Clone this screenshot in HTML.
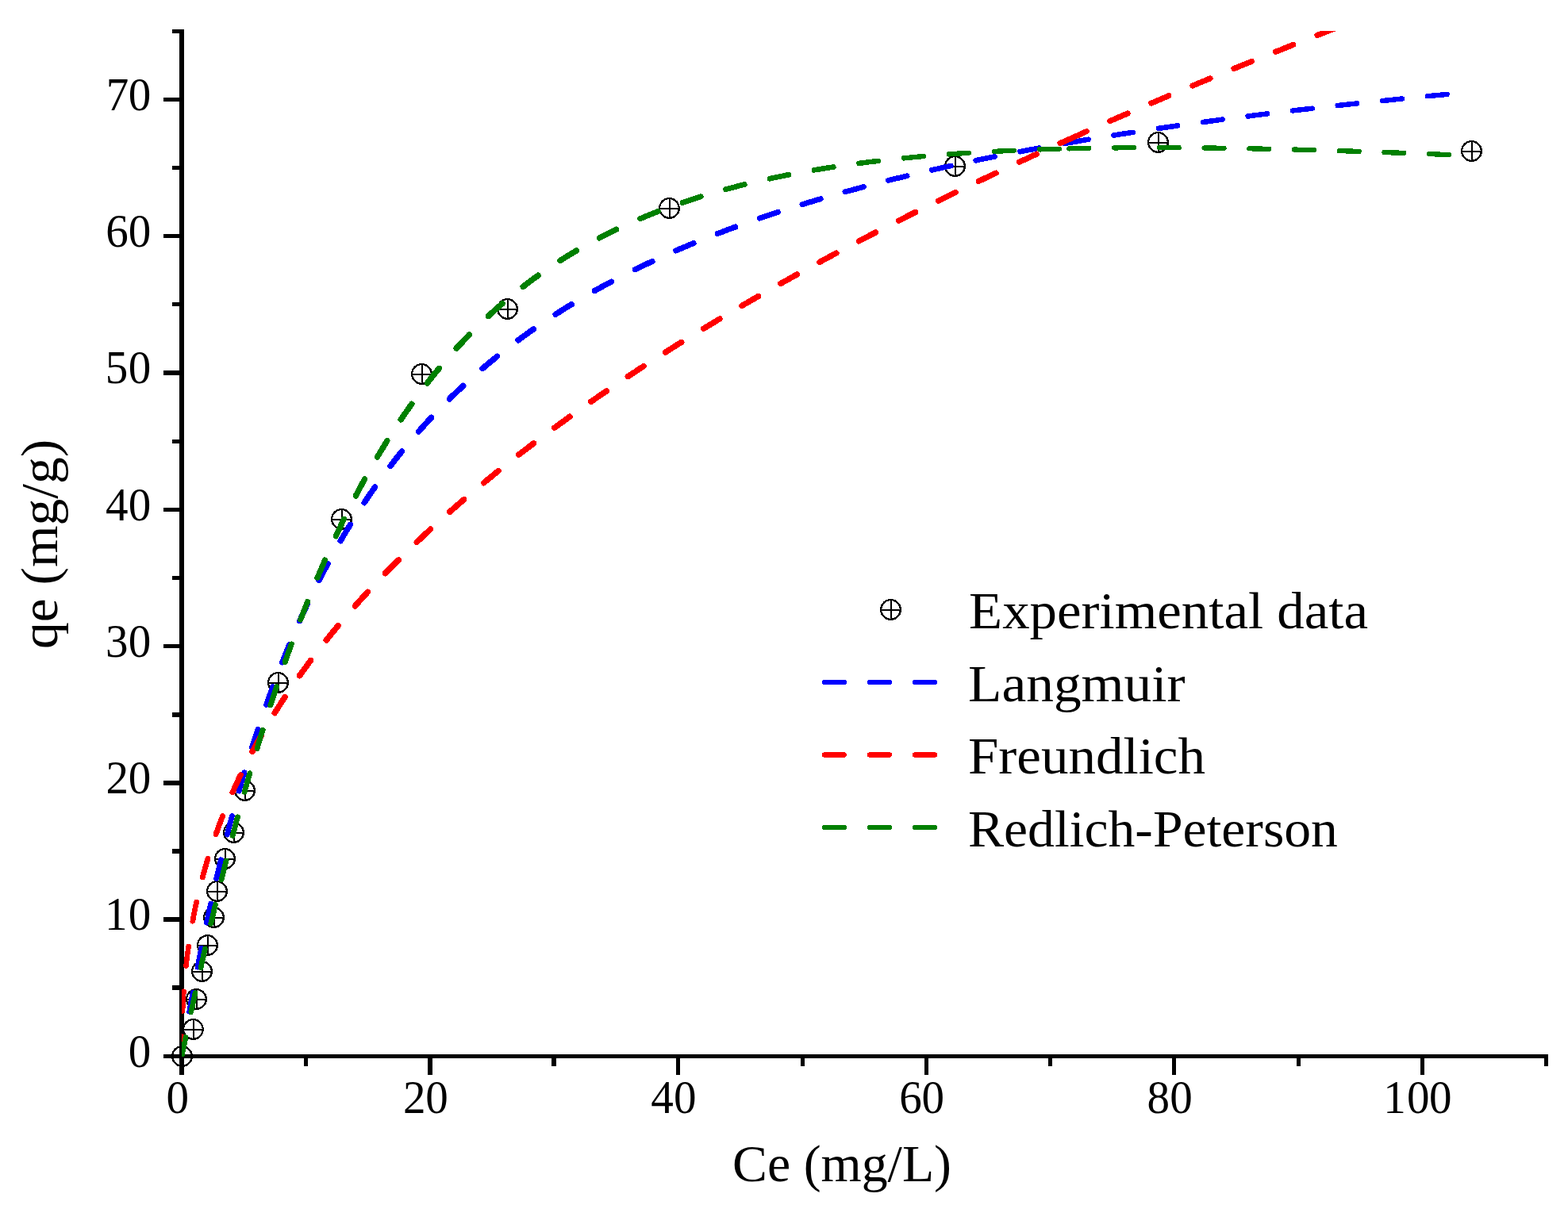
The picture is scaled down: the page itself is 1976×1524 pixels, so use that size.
<!DOCTYPE html>
<html lang="en"><head><meta charset="utf-8"><title>Adsorption isotherm</title>
<style>html,body{margin:0;padding:0;background:#fff;}body{width:1976px;height:1524px;overflow:hidden;}svg{display:block;}text{font-family:"Liberation Serif","DejaVu Serif",serif;fill:#000;font-kerning:none;}</style></head><body>
<svg width="1976" height="1524" viewBox="0 0 1976 1524">
<rect x="0" y="0" width="1976" height="1524" fill="#fff"/>
<g fill="#000" shape-rendering="crispEdges">
<rect x="226" y="37" width="6" height="1318"/>
<rect x="206" y="1329" width="1745" height="5"/>
<rect x="217" y="37" width="9" height="5"/>
<rect x="206" y="123" width="20" height="5"/>
<rect x="217" y="209" width="9" height="5"/>
<rect x="206" y="295" width="20" height="5"/>
<rect x="217" y="381" width="9" height="5"/>
<rect x="206" y="467" width="20" height="6"/>
<rect x="217" y="554" width="9" height="5"/>
<rect x="206" y="640" width="20" height="5"/>
<rect x="217" y="726" width="9" height="5"/>
<rect x="206" y="812" width="20" height="5"/>
<rect x="217" y="898" width="9" height="6"/>
<rect x="206" y="984" width="20" height="6"/>
<rect x="217" y="1070" width="9" height="6"/>
<rect x="206" y="1156" width="20" height="6"/>
<rect x="217" y="1242" width="9" height="6"/>
<rect x="383" y="1334" width="5" height="10"/>
<rect x="539" y="1334" width="6" height="21"/>
<rect x="695" y="1334" width="6" height="10"/>
<rect x="852" y="1334" width="5" height="21"/>
<rect x="1009" y="1334" width="5" height="10"/>
<rect x="1165" y="1334" width="5" height="21"/>
<rect x="1321" y="1334" width="5" height="10"/>
<rect x="1477" y="1334" width="5" height="21"/>
<rect x="1634" y="1334" width="5" height="10"/>
<rect x="1790" y="1334" width="5" height="21"/>
<rect x="1946" y="1334" width="5" height="10"/>
</g>
<g fill="#000" shape-rendering="crispEdges">
<g transform="translate(229.5,1331.5)"><circle r="12.35" fill="none" stroke="#000" stroke-width="2.30"/><rect x="-0.5" y="-13" width="2" height="26"/><rect x="-13" y="-0.5" width="26" height="2"/></g>
<g transform="translate(243.5,1297.5)"><circle r="12.35" fill="none" stroke="#000" stroke-width="2.30"/><rect x="-0.5" y="-13" width="2" height="26"/><rect x="-13" y="-0.5" width="26" height="2"/></g>
<g transform="translate(247.5,1259.5)"><circle r="12.35" fill="none" stroke="#000" stroke-width="2.30"/><rect x="-0.5" y="-13" width="2" height="26"/><rect x="-13" y="-0.5" width="26" height="2"/></g>
<g transform="translate(254.5,1224.5)"><circle r="12.35" fill="none" stroke="#000" stroke-width="2.30"/><rect x="-0.5" y="-13" width="2" height="26"/><rect x="-13" y="-0.5" width="26" height="2"/></g>
<g transform="translate(261.5,1191.5)"><circle r="12.35" fill="none" stroke="#000" stroke-width="2.30"/><rect x="-0.5" y="-13" width="2" height="26"/><rect x="-13" y="-0.5" width="26" height="2"/></g>
<g transform="translate(269.5,1156.5)"><circle r="12.35" fill="none" stroke="#000" stroke-width="2.30"/><rect x="-0.5" y="-13" width="2" height="26"/><rect x="-13" y="-0.5" width="26" height="2"/></g>
<g transform="translate(273.5,1123.5)"><circle r="12.35" fill="none" stroke="#000" stroke-width="2.30"/><rect x="-0.5" y="-13" width="2" height="26"/><rect x="-13" y="-0.5" width="26" height="2"/></g>
<g transform="translate(283.5,1082.5)"><circle r="12.35" fill="none" stroke="#000" stroke-width="2.30"/><rect x="-0.5" y="-13" width="2" height="26"/><rect x="-13" y="-0.5" width="26" height="2"/></g>
<g transform="translate(294.5,1049.5)"><circle r="12.35" fill="none" stroke="#000" stroke-width="2.30"/><rect x="-0.5" y="-13" width="2" height="26"/><rect x="-13" y="-0.5" width="26" height="2"/></g>
<g transform="translate(308.5,996.5)"><circle r="12.35" fill="none" stroke="#000" stroke-width="2.30"/><rect x="-0.5" y="-13" width="2" height="26"/><rect x="-13" y="-0.5" width="26" height="2"/></g>
<g transform="translate(350.5,860.5)"><circle r="12.35" fill="none" stroke="#000" stroke-width="2.30"/><rect x="-0.5" y="-13" width="2" height="26"/><rect x="-13" y="-0.5" width="26" height="2"/></g>
<g transform="translate(430.5,654.5)"><circle r="12.35" fill="none" stroke="#000" stroke-width="2.30"/><rect x="-0.5" y="-13" width="2" height="26"/><rect x="-13" y="-0.5" width="26" height="2"/></g>
<g transform="translate(531.5,471.5)"><circle r="12.35" fill="none" stroke="#000" stroke-width="2.30"/><rect x="-0.5" y="-13" width="2" height="26"/><rect x="-13" y="-0.5" width="26" height="2"/></g>
<g transform="translate(639.5,389.5)"><circle r="12.35" fill="none" stroke="#000" stroke-width="2.30"/><rect x="-0.5" y="-13" width="2" height="26"/><rect x="-13" y="-0.5" width="26" height="2"/></g>
<g transform="translate(843.5,262.5)"><circle r="12.35" fill="none" stroke="#000" stroke-width="2.30"/><rect x="-0.5" y="-13" width="2" height="26"/><rect x="-13" y="-0.5" width="26" height="2"/></g>
<g transform="translate(1203.5,209.5)"><circle r="12.35" fill="none" stroke="#000" stroke-width="2.30"/><rect x="-0.5" y="-13" width="2" height="26"/><rect x="-13" y="-0.5" width="26" height="2"/></g>
<g transform="translate(1459.5,179.5)"><circle r="12.35" fill="none" stroke="#000" stroke-width="2.30"/><rect x="-0.5" y="-13" width="2" height="26"/><rect x="-13" y="-0.5" width="26" height="2"/></g>
<g transform="translate(1854.5,190.5)"><circle r="12.35" fill="none" stroke="#000" stroke-width="2.30"/><rect x="-0.5" y="-13" width="2" height="26"/><rect x="-13" y="-0.5" width="26" height="2"/></g>
<g transform="translate(1122.5,768.5)"><circle r="12.35" fill="none" stroke="#000" stroke-width="2.30"/><rect x="-0.5" y="-13" width="2" height="26"/><rect x="-13" y="-0.5" width="26" height="2"/></g>
</g>
<defs><clipPath id="plot"><rect x="229" y="39" width="1722" height="1293"/></clipPath></defs>
<g fill="none" stroke-linecap="round" stroke-linejoin="round" clip-path="url(#plot)" shape-rendering="crispEdges">
<g stroke="#0000ff">
<path stroke-width="6.62" d="M229.0,1331.5 L229.8,1326.6 L230.6,1321.8 L231.4,1316.9 L232.2,1312.1 L233.0,1307.3"/>
<path stroke-width="6.65" d="M238.6,1275.3 L239.4,1270.4 L240.3,1265.6 L241.2,1260.8 L242.1,1255.9 L243.0,1251.1"/>
<path stroke-width="6.69" d="M249.0,1219.2 L249.9,1214.3 L250.9,1209.5 L251.8,1204.7 L252.8,1199.9 L253.7,1195.1"/>
<path stroke-width="6.74" d="M260.3,1163.2 L261.3,1158.4 L262.4,1153.7 L263.4,1148.9 L264.4,1144.1 L265.5,1139.3"/>
<path stroke-width="6.78" d="M272.7,1107.5 L273.8,1102.8 L274.9,1098.0 L276.1,1093.3 L277.2,1088.5 L278.3,1083.8"/>
<path stroke-width="6.84" d="M286.2,1052.1 L287.4,1047.4 L288.7,1042.7 L289.9,1038.0 L291.2,1033.3 L292.4,1028.6"/>
<path stroke-width="6.89" d="M301.1,997.1 L302.4,992.4 L303.8,987.7 L305.1,983.1 L306.5,978.4 L307.9,973.7"/>
<path stroke-width="6.96" d="M317.5,942.4 L319.0,937.8 L320.4,933.2 L321.9,928.6 L323.4,924.0 L325.0,919.4"/>
<path stroke-width="7.03" d="M335.6,888.4 L337.2,883.8 L338.8,879.3 L340.5,874.7 L342.1,870.2 L343.8,865.6"/>
<path stroke-width="7.11" d="M355.6,835.0 L357.4,830.6 L359.2,826.1 L361.0,821.6 L362.8,817.2 L364.7,812.7"/>
<path stroke-width="7.19" d="M377.6,782.8 L379.6,778.4 L381.6,774.0 L383.6,769.6 L385.6,765.3 L387.7,760.9"/>
<path stroke-width="7.27" d="M402.1,731.6 L404.8,726.3 L407.6,721.0 L410.4,715.7 L413.2,710.4"/>
<path stroke-width="7.34" d="M429.2,681.8 L432.2,676.6 L435.2,671.5 L438.3,666.4 L441.4,661.3"/>
<path stroke-width="7.41" d="M459.0,633.7 L462.3,628.7 L465.7,623.8 L469.1,618.9 L472.5,614.1"/>
<path stroke-width="7.46" d="M491.9,587.6 L495.5,582.9 L499.1,578.2 L502.8,573.6 L506.5,568.9"/>
<path stroke-width="7.49" d="M527.7,543.9 L531.6,539.4 L535.6,535.0 L539.6,530.6 L543.6,526.3"/>
<path stroke-width="7.50" d="M566.5,502.8 L570.7,498.6 L575.0,494.5 L579.3,490.5 L583.6,486.4"/>
<path stroke-width="7.48" d="M608.2,464.5 L612.8,460.6 L617.3,456.8 L621.9,453.1 L626.5,449.3"/>
<path stroke-width="7.43" d="M653.1,428.8 L657.8,425.3 L662.7,421.8 L667.5,418.3 L672.4,414.9"/>
<path stroke-width="7.37" d="M700.2,396.2 L705.2,393.0 L710.2,389.8 L715.3,386.7 L720.4,383.6"/>
<path stroke-width="7.30" d="M749.4,366.6 L754.6,363.7 L759.8,360.8 L765.1,358.0 L770.4,355.2"/>
<path stroke-width="7.22" d="M800.3,339.8 L805.7,337.2 L811.1,334.6 L816.5,332.0 L821.9,329.5"/>
<path stroke-width="7.14" d="M851.9,315.9 L856.3,314.0 L860.8,312.1 L865.2,310.3 L869.6,308.4 L874.1,306.6"/>
<path stroke-width="7.06" d="M904.3,294.5 L908.8,292.8 L913.3,291.0 L917.8,289.3 L922.4,287.7 L926.9,286.0"/>
<path stroke-width="6.99" d="M957.4,275.1 L962.0,273.6 L966.6,272.0 L971.2,270.5 L975.8,269.0 L980.4,267.4"/>
<path stroke-width="6.92" d="M1010.9,257.7 L1015.6,256.3 L1020.2,254.9 L1024.9,253.5 L1029.5,252.1 L1034.2,250.7"/>
<path stroke-width="6.86" d="M1064.9,241.9 L1069.6,240.6 L1074.3,239.3 L1079.0,238.1 L1083.7,236.8 L1088.4,235.5"/>
<path stroke-width="6.81" d="M1119.4,227.5 L1124.2,226.3 L1128.9,225.1 L1133.6,224.0 L1138.4,222.8 L1143.1,221.7"/>
<path stroke-width="6.76" d="M1174.4,214.3 L1179.2,213.3 L1183.9,212.2 L1188.7,211.1 L1193.5,210.0 L1198.3,209.0"/>
<path stroke-width="6.71" d="M1229.7,202.3 L1234.4,201.3 L1239.2,200.3 L1244.0,199.3 L1248.8,198.4 L1253.6,197.4"/>
<path stroke-width="6.67" d="M1285.5,191.2 L1290.3,190.2 L1295.2,189.3 L1300.0,188.4 L1304.8,187.5 L1309.6,186.7"/>
<path stroke-width="6.64" d="M1341.7,180.9 L1347.3,179.9"/>
<path stroke-width="6.63" d="M1347.3,179.9 L1352.1,179.1 L1357.0,178.3 L1361.8,177.4 L1366.7,176.6 L1371.5,175.8"/>
<path stroke-width="6.60" d="M1403.5,170.6 L1408.3,169.8 L1413.2,169.0 L1418.1,168.3 L1422.9,167.5 L1427.8,166.8"/>
<path stroke-width="6.57" d="M1459.8,161.9 L1464.6,161.2 L1469.5,160.5 L1474.4,159.8 L1479.3,159.1 L1484.1,158.4"/>
<path stroke-width="6.54" d="M1516.1,153.9 L1521.0,153.3 L1525.9,152.6 L1530.8,151.9 L1535.7,151.3 L1540.6,150.6"/>
<path stroke-width="6.52" d="M1572.6,146.5 L1577.5,145.8 L1582.4,145.2 L1587.3,144.6 L1592.2,144.0 L1597.1,143.4"/>
<path stroke-width="6.50" d="M1629.1,139.5 L1634.0,138.9 L1638.9,138.4 L1643.9,137.8 L1648.8,137.2 L1653.7,136.7"/>
<path stroke-width="6.48" d="M1685.7,133.0 L1690.6,132.5 L1695.5,132.0 L1700.5,131.4 L1705.4,130.9 L1710.3,130.4"/>
<path stroke-width="6.46" d="M1742.3,127.0 L1747.3,126.5 L1752.2,126.0 L1757.1,125.5 L1762.0,125.0 L1766.9,124.5"/>
<path stroke-width="6.45" d="M1799.0,121.3 L1803.9,120.8 L1808.9,120.3 L1813.8,119.9 L1818.7,119.4 L1823.6,118.9"/>
</g>
<g stroke="#ff0000">
<path stroke-width="6.21" d="M229.0,1331.5 L229.0,1326.5 L229.0,1321.5 L229.1,1316.5 L229.1,1311.5 L229.2,1306.5"/>
<path stroke-width="6.34" d="M230.1,1274.4 L230.4,1269.5 L230.6,1264.5 L230.9,1259.5 L231.2,1254.6 L231.6,1249.6"/>
<path stroke-width="6.51" d="M234.5,1217.6 L235.0,1212.7 L235.6,1207.8 L236.2,1202.9 L236.9,1198.0 L237.6,1193.1"/>
<path stroke-width="6.70" d="M242.8,1161.2 L243.7,1156.4 L244.6,1151.6 L245.6,1146.8 L246.6,1142.0 L247.6,1137.2"/>
<path stroke-width="6.88" d="M255.3,1105.7 L256.6,1101.0 L257.9,1096.3 L259.2,1091.7 L260.6,1087.0 L262.0,1082.3"/>
<path stroke-width="7.04" d="M272.1,1051.5 L273.8,1046.9 L275.4,1042.4 L277.1,1037.8 L278.8,1033.3 L280.6,1028.8"/>
<path stroke-width="7.18" d="M293.1,998.7 L295.1,994.3 L297.1,989.9 L299.1,985.6 L301.1,981.2 L303.2,976.9"/>
<path stroke-width="7.30" d="M317.9,947.7 L320.8,942.5 L323.6,937.2 L326.5,932.0 L329.5,926.8"/>
<path stroke-width="7.38" d="M346.2,898.7 L349.4,893.6 L352.6,888.6 L355.8,883.6 L359.1,878.6"/>
<path stroke-width="7.44" d="M377.5,851.7 L381.0,846.9 L384.5,842.1 L388.0,837.3 L391.5,832.5"/>
<path stroke-width="7.47" d="M411.3,806.9 L415.1,802.2 L418.8,797.6 L422.6,793.0 L426.3,788.5"/>
<path stroke-width="7.49" d="M447.5,763.9 L451.4,759.5 L455.3,755.1 L459.3,750.7 L463.3,746.3"/>
<path stroke-width="7.50" d="M485.5,722.7 L489.7,718.5 L493.8,714.3 L498.0,710.1 L502.2,705.9"/>
<path stroke-width="7.50" d="M525.3,683.3 L529.6,679.2 L533.9,675.2 L538.3,671.1 L542.6,667.1"/>
<path stroke-width="7.49" d="M566.8,645.3 L571.2,641.3 L575.7,637.4 L580.1,633.5 L584.6,629.7"/>
<path stroke-width="7.47" d="M609.7,608.6 L614.3,604.8 L618.9,601.0 L623.5,597.3 L628.1,593.6"/>
<path stroke-width="7.46" d="M653.7,573.2 L658.4,569.6 L663.1,566.0 L667.8,562.4 L672.6,558.8"/>
<path stroke-width="7.44" d="M698.8,539.2 L703.6,535.7 L708.4,532.2 L713.2,528.7 L718.0,525.3"/>
<path stroke-width="7.42" d="M744.7,506.4 L749.6,503.0 L754.5,499.6 L759.4,496.2 L764.3,492.9"/>
<path stroke-width="7.39" d="M791.3,474.7 L796.3,471.4 L801.3,468.1 L806.2,464.8 L811.2,461.6"/>
<path stroke-width="7.37" d="M838.7,444.0 L843.7,440.8 L848.7,437.6 L853.8,434.4 L858.8,431.3"/>
<path stroke-width="7.35" d="M886.6,414.2 L891.7,411.1 L896.8,408.1 L901.9,405.0 L907.0,401.9"/>
<path stroke-width="7.33" d="M934.9,385.5 L940.1,382.5 L945.2,379.5 L950.4,376.5 L955.6,373.5"/>
<path stroke-width="7.31" d="M983.7,357.5 L988.9,354.6 L994.1,351.7 L999.3,348.8 L1004.5,345.9"/>
<path stroke-width="7.29" d="M1032.9,330.4 L1038.1,327.5 L1043.4,324.7 L1048.6,321.9 L1053.9,319.0"/>
<path stroke-width="7.27" d="M1082.4,303.9 L1087.7,301.2 L1093.0,298.4 L1098.3,295.6 L1103.7,292.9"/>
<path stroke-width="7.25" d="M1132.3,278.2 L1137.7,275.5 L1143.0,272.8 L1148.4,270.1 L1153.7,267.4"/>
<path stroke-width="7.23" d="M1182.6,253.1 L1188.0,250.4 L1193.3,247.8 L1198.7,245.1 L1204.1,242.5"/>
<path stroke-width="7.21" d="M1233.3,228.5 L1238.7,225.9 L1244.1,223.3 L1249.5,220.7 L1255.0,218.2"/>
<path stroke-width="7.19" d="M1284.5,204.3 L1288.9,202.3 L1293.2,200.2 L1297.6,198.2 L1302.0,196.2 L1306.3,194.2"/>
<path stroke-width="7.17" d="M1336.1,180.6 L1339.8,178.9 L1343.6,177.3 L1347.3,175.6"/>
<path stroke-width="7.17" d="M1347.3,175.6 L1351.7,173.6 L1356.1,171.6 L1360.5,169.7 L1364.8,167.7 L1369.2,165.7"/>
<path stroke-width="7.15" d="M1398.9,152.6 L1403.3,150.7 L1407.7,148.8 L1412.1,146.8 L1416.6,144.9 L1421.0,143.0"/>
<path stroke-width="7.14" d="M1450.8,130.1 L1455.2,128.3 L1459.6,126.4 L1464.0,124.5 L1468.5,122.6 L1472.9,120.7"/>
<path stroke-width="7.12" d="M1502.8,108.1 L1507.2,106.3 L1511.7,104.4 L1516.1,102.6 L1520.6,100.7 L1525.0,98.9"/>
<path stroke-width="7.11" d="M1555.0,86.5 L1559.5,84.7 L1563.9,82.9 L1568.4,81.1 L1572.9,79.3 L1577.3,77.4"/>
<path stroke-width="7.09" d="M1607.4,65.3 L1611.9,63.6 L1616.3,61.8 L1620.8,60.0 L1625.3,58.2 L1629.8,56.4"/>
<path stroke-width="7.08" d="M1659.9,44.5 L1664.4,42.8 L1668.9,41.0 L1673.4,39.3 L1677.9,37.5 L1682.4,35.8"/>
<path stroke-width="7.07" d="M1712.6,24.1 L1717.1,22.4 L1721.6,20.7 L1726.1,18.9 L1730.6,17.2 L1735.1,15.5"/>
<path stroke-width="7.05" d="M1765.4,4.1 L1769.9,2.4 L1774.5,0.7 L1779.0,-1.0 L1783.5,-2.7 L1788.0,-4.4"/>
<path stroke-width="7.04" d="M1818.4,-15.7 L1822.9,-17.4 L1827.4,-19.0 L1832.0,-20.7 L1836.5,-22.4 L1841.0,-24.0"/>
</g>
<g stroke="#008000">
<path stroke-width="6.72" d="M229.0,1331.5 L230.0,1326.7 L231.0,1321.9 L232.0,1317.1 L233.0,1312.3 L234.0,1307.5"/>
<path stroke-width="6.74" d="M240.8,1275.6 L241.8,1270.9 L242.9,1266.1 L243.9,1261.3 L245.0,1256.5 L246.0,1251.7"/>
<path stroke-width="6.76" d="M253.0,1219.9 L254.1,1215.1 L255.2,1210.3 L256.3,1205.6 L257.3,1200.8 L258.4,1196.0"/>
<path stroke-width="6.78" d="M265.8,1164.2 L266.9,1159.4 L268.0,1154.7 L269.2,1149.9 L270.3,1145.2 L271.4,1140.4"/>
<path stroke-width="6.81" d="M279.2,1108.7 L280.3,1104.0 L281.5,1099.2 L282.7,1094.5 L283.9,1089.8 L285.1,1085.0"/>
<path stroke-width="6.84" d="M293.2,1053.4 L294.5,1048.6 L295.7,1043.9 L297.0,1039.2 L298.2,1034.5 L299.5,1029.8"/>
<path stroke-width="6.88" d="M308.1,998.2 L309.5,993.5 L310.8,988.9 L312.1,984.2 L313.4,979.5 L314.8,974.8"/>
<path stroke-width="6.92" d="M324.0,943.4 L325.4,938.7 L326.8,934.1 L328.2,929.4 L329.6,924.8 L331.1,920.2"/>
<path stroke-width="6.97" d="M340.9,888.9 L342.4,884.2 L343.9,879.6 L345.4,875.0 L347.0,870.4 L348.5,865.8"/>
<path stroke-width="7.02" d="M359.1,834.7 L360.7,830.2 L362.3,825.6 L364.0,821.1 L365.6,816.5 L367.3,812.0"/>
<path stroke-width="7.08" d="M378.8,781.1 L380.5,776.6 L382.2,772.1 L384.0,767.6 L385.7,763.1 L387.5,758.6"/>
<path stroke-width="7.14" d="M400.0,728.1 L401.9,723.7 L403.8,719.3 L405.7,714.8 L407.6,710.4 L409.5,706.0"/>
<path stroke-width="7.21" d="M423.2,675.9 L425.7,670.5 L428.3,665.1 L430.9,659.7 L433.5,654.3"/>
<path stroke-width="7.28" d="M448.3,625.0 L451.1,619.7 L453.9,614.5 L456.7,609.2 L459.6,604.0"/>
<path stroke-width="7.35" d="M475.5,576.1 L478.5,571.0 L481.6,565.9 L484.7,560.8 L487.8,555.7"/>
<path stroke-width="7.42" d="M505.2,528.8 L508.6,523.9 L512.0,519.0 L515.4,514.1 L518.8,509.3"/>
<path stroke-width="7.47" d="M538.4,482.9 L542.1,478.2 L545.8,473.6 L549.5,469.0 L553.3,464.4"/>
<path stroke-width="7.50" d="M575.2,439.1 L579.2,434.7 L583.3,430.4 L587.4,426.1 L591.5,421.8"/>
<path stroke-width="7.49" d="M615.5,398.4 L619.8,394.4 L624.2,390.4 L628.7,386.5 L633.2,382.6"/>
<path stroke-width="7.45" d="M659.2,361.4 L663.9,357.8 L668.6,354.2 L673.4,350.7 L678.2,347.2"/>
<path stroke-width="7.36" d="M706.0,328.5 L711.0,325.3 L716.1,322.1 L721.2,319.1 L726.3,316.0"/>
<path stroke-width="7.24" d="M755.3,299.9 L760.6,297.2 L766.0,294.5 L771.3,291.8 L776.7,289.2"/>
<path stroke-width="7.11" d="M806.9,275.7 L811.3,273.8 L815.8,271.9 L820.2,270.1 L824.7,268.4 L829.2,266.6"/>
<path stroke-width="6.97" d="M860.1,255.4 L864.7,253.8 L869.3,252.3 L873.9,250.8 L878.5,249.3 L883.2,247.9"/>
<path stroke-width="6.84" d="M914.6,238.7 L919.3,237.4 L924.1,236.2 L928.8,234.9 L933.5,233.7 L938.2,232.6"/>
<path stroke-width="6.72" d="M970.0,225.2 L974.8,224.2 L979.6,223.1 L984.4,222.2 L989.2,221.2 L994.0,220.2"/>
<path stroke-width="6.61" d="M1026.0,214.4 L1030.9,213.6 L1035.7,212.8 L1040.6,212.0 L1045.4,211.2 L1050.3,210.5"/>
<path stroke-width="6.52" d="M1082.5,205.9 L1087.3,205.3 L1092.2,204.6 L1097.1,204.0 L1102.0,203.4 L1106.9,202.9"/>
<path stroke-width="6.45" d="M1139.1,199.4 L1144.1,198.9 L1149.0,198.4 L1153.9,197.9 L1158.9,197.5 L1163.8,197.0"/>
<path stroke-width="6.38" d="M1196.0,194.4 L1200.9,194.1 L1205.9,193.7 L1210.8,193.4 L1215.8,193.1 L1220.8,192.7"/>
<path stroke-width="6.33" d="M1252.9,190.9 L1257.9,190.6 L1262.9,190.4 L1267.9,190.1 L1272.8,189.9 L1277.8,189.7"/>
<path stroke-width="6.28" d="M1310.0,188.4 L1314.9,188.3 L1319.9,188.1 L1324.9,188.0 L1329.9,187.8 L1334.9,187.7"/>
<path stroke-width="6.26" d="M1347.3,187.4 L1352.3,187.2 L1357.3,187.1 L1362.3,187.0 L1367.3,186.9 L1372.2,186.8"/>
<path stroke-width="6.22" d="M1404.0,186.4 L1409.0,186.4 L1414.0,186.3 L1419.0,186.3 L1424.0,186.2 L1429.0,186.2"/>
<path stroke-width="6.21" d="M1460.8,186.1 L1465.8,186.2 L1470.8,186.2 L1475.8,186.2 L1480.8,186.2 L1485.8,186.2"/>
<path stroke-width="6.23" d="M1517.5,186.5 L1522.5,186.5 L1527.5,186.6 L1532.5,186.6 L1537.5,186.7 L1542.5,186.8"/>
<path stroke-width="6.25" d="M1574.3,187.3 L1579.3,187.4 L1584.3,187.5 L1589.3,187.6 L1594.2,187.7 L1599.2,187.8"/>
<path stroke-width="6.27" d="M1631.0,188.5 L1636.0,188.7 L1641.0,188.8 L1646.0,188.9 L1651.0,189.1 L1655.9,189.2"/>
<path stroke-width="6.28" d="M1687.7,190.1 L1692.7,190.3 L1697.7,190.4 L1702.7,190.6 L1707.7,190.7 L1712.7,190.9"/>
<path stroke-width="6.29" d="M1744.5,192.0 L1749.4,192.2 L1754.4,192.4 L1759.4,192.5 L1764.4,192.7 L1769.4,192.9"/>
<path stroke-width="6.30" d="M1801.2,194.1 L1806.2,194.3 L1811.1,194.5 L1816.1,194.7 L1821.1,194.9 L1826.1,195.1"/>
</g>
</g>
<g fill="none" stroke-width="6.20" stroke-linecap="round" shape-rendering="crispEdges">
<path stroke="#0000ff" stroke-dasharray="25.10 32.00" d="M1038.8,860.0 H1180"/>
<path stroke="#ff0000" stroke-dasharray="25.10 32.00" d="M1038.8,951.5 H1180"/>
<path stroke="#008000" stroke-dasharray="25.10 32.00" d="M1038.8,1043.0 H1180"/>
</g>
<text transform="translate(923.10,1489.00) scale(1.0033,1.0000)" font-size="65.60">Ce (mg/L)</text>
<text transform="translate(71.80,817.94) rotate(-90) scale(1.0282,1.0000)" font-size="65.60">qe (mg/g)</text>
<text transform="translate(1221.12,792.10) scale(1.0499,1.0000)" font-size="65.60">Experimental data</text>
<text transform="translate(1220.00,883.70) scale(1.0581,1.0000)" font-size="65.60">Langmuir</text>
<text transform="translate(1219.91,975.10) scale(1.0524,1.0000)" font-size="65.60">Freundlich</text>
<text transform="translate(1219.95,1066.80) scale(1.0314,1.0000)" font-size="65.60">Redlich-Peterson</text>
<text transform="translate(161.73,1344.60) scale(0.9548,1)" font-size="59.80" x="0.00">0</text>
<text transform="translate(131.88,1172.33) scale(0.9548,1)" font-size="59.80" x="0.00 31.26">10</text>
<text transform="translate(133.55,1000.07) scale(0.9548,1)" font-size="59.80" x="0.00 29.51">20</text>
<text transform="translate(132.97,827.80) scale(0.9548,1)" font-size="59.80" x="0.00 30.11">30</text>
<text transform="translate(133.11,655.53) scale(0.9548,1)" font-size="59.80" x="0.00 29.97">40</text>
<text transform="translate(132.68,483.26) scale(0.9548,1)" font-size="59.80" x="0.00 30.42">50</text>
<text transform="translate(133.35,311.00) scale(0.9548,1)" font-size="59.80" x="0.00 29.72">60</text>
<text transform="translate(133.72,138.73) scale(0.9548,1)" font-size="59.80" x="0.00 29.33">70</text>
<text transform="translate(209.53,1403.40) scale(0.9548,1)" font-size="59.80" x="0.00">0</text>
<text transform="translate(508.05,1403.40) scale(0.9548,1)" font-size="59.80" x="0.00 29.51">20</text>
<text transform="translate(820.31,1403.40) scale(0.9548,1)" font-size="59.80" x="0.00 29.97">40</text>
<text transform="translate(1133.25,1403.40) scale(0.9548,1)" font-size="59.80" x="0.00 29.72">60</text>
<text transform="translate(1445.38,1403.40) scale(0.9548,1)" font-size="59.80" x="0.00 30.32">80</text>
<text transform="translate(1743.18,1403.40) scale(0.9548,1)" font-size="59.80" x="0.00 31.26 60.58">100</text>
</svg></body></html>
